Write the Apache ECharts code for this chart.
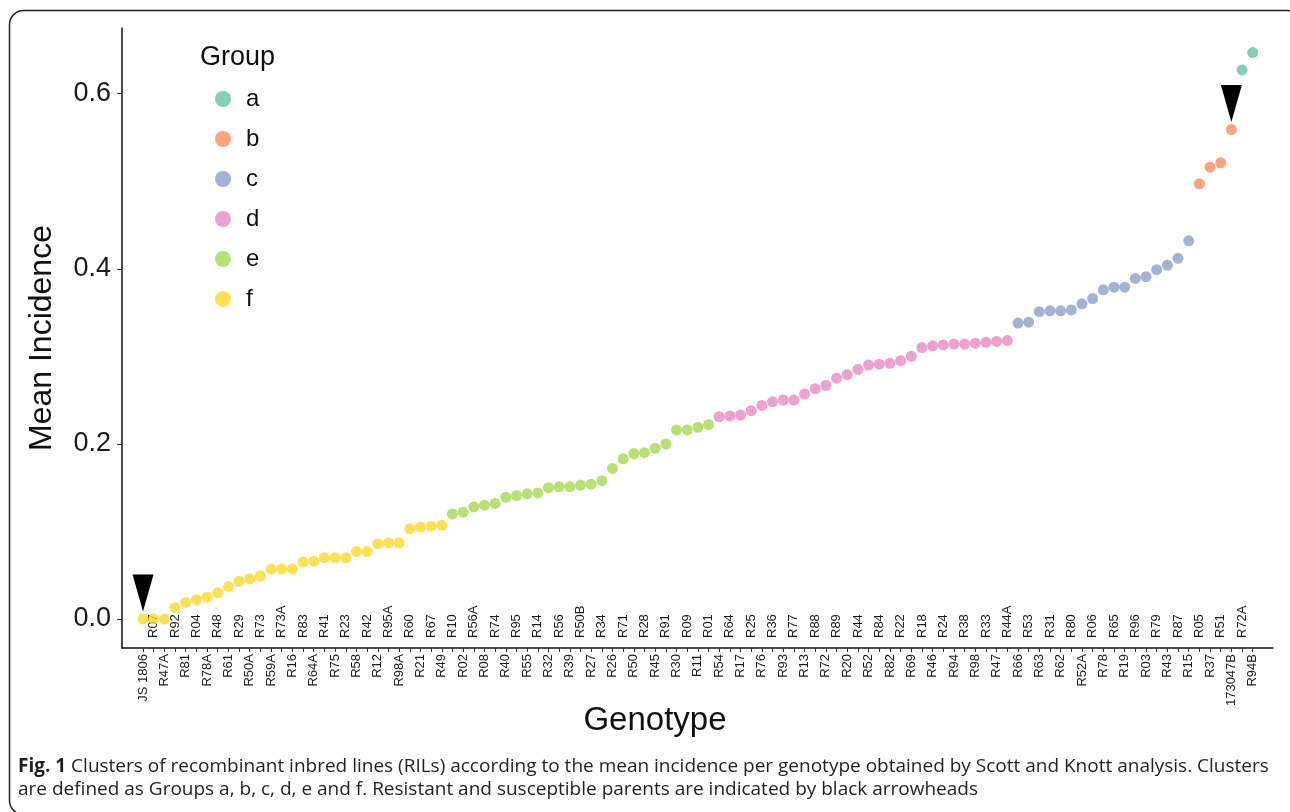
<!DOCTYPE html>
<html><head><meta charset="utf-8">
<script src="https://cdn.jsdelivr.net/npm/echarts@6/dist/echarts.min.js"></script>
<style>html,body{margin:0;padding:0;background:#fff}#c{width:1290px;height:812px}</style>
</head><body><div id="c"></div>
<script>
const genotypes = ['JS 1806','R07','R47A','R92','R81','R04','R78A','R48','R61','R29',
  'R50A','R73','R59A','R73A','R16','R83','R64A','R41','R75','R23',
  'R58','R42','R12','R95A','R98A','R60','R21','R67','R49','R10',
  'R02','R56A','R08','R74','R40','R95','R55','R14','R32','R56',
  'R39','R50B','R27','R34','R26','R71','R50','R28','R45','R91',
  'R30','R09','R11','R01','R54','R64','R17','R25','R76','R36',
  'R93','R77','R13','R88','R72','R89','R20','R44','R52','R84',
  'R82','R22','R69','R18','R46','R24','R94','R38','R98','R33',
  'R47','R44A','R66','R53','R63','R31','R62','R80','R52A','R06',
  'R78','R65','R19','R96','R03','R79','R43','R87','R15','R05',
  'R37','R51','173047B','R72A','R94B'];

const incidence = [0, 0, 0, 0.013, 0.019, 0.022, 0.025, 0.030, 0.037, 0.043,
  0.046, 0.049, 0.057, 0.057, 0.057, 0.065, 0.066, 0.070, 0.070, 0.070,
  0.077, 0.077, 0.086, 0.087, 0.087, 0.103, 0.105, 0.106, 0.107, 0.120,
  0.122, 0.128, 0.130, 0.132, 0.139, 0.141, 0.143, 0.144, 0.150, 0.151,
  0.151, 0.153, 0.154, 0.158, 0.172, 0.183, 0.189, 0.190, 0.195, 0.200,
  0.216, 0.216, 0.219, 0.222, 0.231, 0.232, 0.233, 0.238, 0.244, 0.248,
  0.250, 0.250, 0.257, 0.263, 0.267, 0.275, 0.279, 0.285, 0.290, 0.291,
  0.292, 0.295, 0.300, 0.310, 0.312, 0.313, 0.314, 0.314, 0.315, 0.316,
  0.317, 0.318, 0.338, 0.339, 0.351, 0.352, 0.352, 0.353, 0.360, 0.366,
  0.376, 0.379, 0.379, 0.389, 0.391, 0.399, 0.404, 0.412, 0.432, 0.497,
  0.516, 0.521, 0.559, 0.627, 0.647];

const groupOf = ['f','f','f','f','f','f','f','f','f','f',
  'f','f','f','f','f','f','f','f','f','f',
  'f','f','f','f','f','f','f','f','f','e',
  'e','e','e','e','e','e','e','e','e','e',
  'e','e','e','e','e','e','e','e','e','e',
  'e','e','e','e','d','d','d','d','d','d',
  'd','d','d','d','d','d','d','d','d','d',
  'd','d','d','d','d','d','d','d','d','d',
  'd','d','c','c','c','c','c','c','c','c',
  'c','c','c','c','c','c','c','c','c','b',
  'b','b','b','a','a'];

const groupNames = ['a', 'b', 'c', 'd', 'e', 'f'];
const groupColors = ['rgba(102,194,165,0.8)', 'rgba(252,141,98,0.8)', 'rgba(141,160,203,0.8)',
  'rgba(231,138,195,0.8)', 'rgba(166,216,84,0.8)', 'rgba(255,217,47,0.8)'];
const parents = ['JS 1806', '173047B'];
const yTicks = [0, 0.2, 0.4, 0.6];
const captionBold = 'Fig. 1';
const captionLines = [
  ' Clusters of recombinant inbred lines (RILs) according to the mean incidence per genotype obtained by Scott and Knott analysis. Clusters',
  'are defined as Groups a, b, c, d, e and f. Resistant and susceptible parents are indicated by black arrowheads'
];

const idx = genotypes.map((_, i) => i);
const evenIdx = idx.filter(i => i % 2 === 0);
const oddIdx = idx.filter(i => i % 2 === 1);
const labelFont = "'Liberation Sans', Arial, sans-serif";
const capFont = "'Open Sans', 'Noto Sans', sans-serif";

const series = groupNames.map((g, k) => ({
  name: g, type: 'scatter', symbol: 'circle', symbolSize: 11,
  itemStyle: { color: groupColors[k], opacity: 1 },
  xAxisIndex: 0,
  data: idx.filter(i => groupOf[i] === g).map(i => [i, incidence[i]])
}));
series.push({
  name: 'parents', type: 'scatter', xAxisIndex: 0,
  symbol: 'path://M0,0L20,0L10,36Z', symbolSize: [21, 37], symbolOffset: [0, -26],
  itemStyle: { color: '#000', opacity: 1 }, z: 5, silent: true,
  data: parents.map(p => { const i = genotypes.indexOf(p); return [i, incidence[i]]; })
});

const chart = echarts.init(document.getElementById('c'), null, { renderer: 'canvas' });
chart.setOption({
  animation: false,
  backgroundColor: '#fff',
  grid: { left: 122, top: 28, right: 17, bottom: 164, containLabel: false },
  xAxis: [{
    type: 'value', min: -1.97, max: 105.9, position: 'bottom',
    name: 'Genotype', nameLocation: 'middle', nameGap: 56, nameMoveOverlap: false,
    nameTextStyle: { fontSize: 33, color: '#111', fontFamily: labelFont, padding: [0, 85, 0, 0] },
    axisLine: { show: true, onZero: false, lineStyle: { color: '#111', width: 1.5 } },
    axisTick: { show: true, length: 4, lineStyle: { color: '#333', width: 1 }, customValues: idx },
    axisLabel: { show: true, customValues: evenIdx, rotate: 90, margin: 6, fontSize: 13,
      color: '#1a1a1a', fontFamily: labelFont, formatter: v => genotypes[v] ?? '' },
    splitLine: { show: false }
  }, {
    type: 'value', min: -1.97, max: 105.9, position: 'bottom', gridIndex: 0,
    axisLine: { show: false, onZero: false }, axisTick: { show: false },
    axisLabel: { show: true, inside: true, customValues: oddIdx, rotate: 90, margin: 10, fontSize: 13,
      color: '#1a1a1a', fontFamily: labelFont, formatter: v => genotypes[v] ?? '' },
    splitLine: { show: false }
  }],
  yAxis: {
    type: 'value', min: -0.0331, max: 0.675,
    name: 'Mean Incidence', nameLocation: 'middle', nameGap: 64, nameRotate: 90, nameMoveOverlap: false,
    nameTextStyle: { fontSize: 32, color: '#111', fontFamily: labelFont },
    axisLine: { show: true, onZero: false, lineStyle: { color: '#111', width: 1.5 } },
    axisTick: { show: true, length: 5, lineStyle: { color: '#333' }, customValues: yTicks },
    axisLabel: { customValues: yTicks, fontSize: 27, color: '#1a1a1a', fontFamily: labelFont, margin: 11,
      formatter: v => v.toFixed(1) },
    splitLine: { show: false }
  },
  legend: {
    data: groupNames, orient: 'vertical', left: 215, top: 87, padding: 0,
    icon: 'circle', itemWidth: 16, itemHeight: 16, itemGap: 16,
    textStyle: { fontSize: 24, lineHeight: 24, color: '#111', fontFamily: labelFont, padding: [0, 0, 0, 10] },
    selectedMode: false
  },
  graphic: [
    { type: 'rect', shape: { x: 9.5, y: 10.5, width: 1292, height: 804, r: 14 },
      style: { fill: 'none', stroke: '#231f20', lineWidth: 1.5 }, silent: true },
    { type: 'text', style: { x: 200, y: 58, text: 'Group', fontSize: 27, fill: '#111',
      fontFamily: labelFont, verticalAlign: 'middle' } },
    { type: 'text', style: { x: 18, y: 778, verticalAlign: 'middle',
      text: '{b|' + captionBold + '}' + captionLines[0] + '\n' + captionLines[1],
      fontSize: 19, lineHeight: 23, fill: '#231f20', fontFamily: capFont,
      rich: { b: { fontWeight: 'bold', fontSize: 19, lineHeight: 23, fontFamily: capFont, fill: '#231f20' } } } }
  ],
  series: series
});
</script></body></html>
